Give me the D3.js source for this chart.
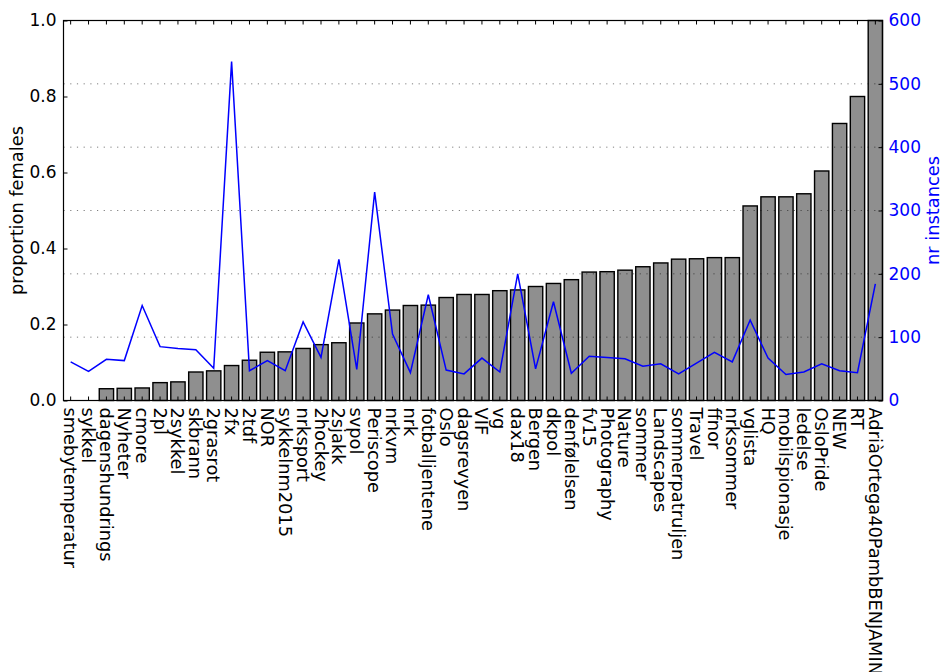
<!DOCTYPE html>
<html>
<head>
<meta charset="utf-8">
<script src="https://cdn.jsdelivr.net/npm/d3@7"></script>
<style>
  html, body { margin: 0; padding: 0; background: #fff; }
  svg { display: block; }
  text { font-family: "DejaVu Sans", sans-serif; }
</style>
</head>
<body>
<svg id="chart" width="943" height="672"></svg>
<script>
// Hashtags, ordered by share of female users
const categories = [
  "smebytemperatur", "sykkel", "dagenshundrings", "Nyheter", "cmore", "2pl",
  "2sykkel", "skbrann", "2grasrot", "2fx", "2tdf", "NOR", "sykkelnm2015",
  "nrksport", "2hockey", "2sjakk", "svpol", "Periscope", "nrkvm", "nrk",
  "fotballjentene", "Oslo", "dagsrevyen", "VIF", "vg", "dax18", "Bergen",
  "dkpol", "denfølelsen", "fv15", "Photography", "Nature", "sommer",
  "Landscapes", "sommerpatruljen", "Travel", "ffnor", "nrksommer", "vglista",
  "HQ", "mobilspionasje", "ledelse", "OsloPride", "NEW", "RT",
  "AdriàOrtega40PambBENJAMIN"
];

// Proportion of female users per hashtag (bars, left axis)
const proportionFemales = [
  0.000, 0.000, 0.031, 0.032, 0.033, 0.047,
  0.049, 0.075, 0.078, 0.092, 0.106, 0.127, 0.128,
  0.137, 0.147, 0.152, 0.204, 0.228, 0.238, 0.250,
  0.251, 0.271, 0.279, 0.279, 0.289, 0.291, 0.300,
  0.308, 0.318, 0.338, 0.339, 0.343, 0.352,
  0.362, 0.372, 0.373, 0.376, 0.376, 0.512,
  0.536, 0.536, 0.544, 0.604, 0.729, 0.800,
  1.000
];

// Number of instances per hashtag (line, right axis)
const nrInstances = [
  61, 46, 65, 63, 150, 85,
  82, 80, 51, 535, 47, 63, 47,
  124, 68, 223, 49, 329, 105, 44,
  167, 48, 42, 67, 45, 200, 50,
  156, 43, 70, 68, 66, 54,
  58, 42, 59, 76, 61, 127,
  67, 41, 45, 58, 47, 44,
  184
];

const leftTicks = [0.0, 0.2, 0.4, 0.6, 0.8, 1.0];
const rightTicks = [0, 100, 200, 300, 400, 500, 600];

const svg = d3.select("#chart");
const plot = { left: 63.5, right: 882.5, top: 20.5, bottom: 400.5 };
const TICK_FONT = 17;
const LABEL_FONT = 17.8;

const x = d3.scaleBand()
  .domain(categories)
  .range([plot.left, plot.right])
  .paddingInner(0.2)
  .paddingOuter(0);

const yLeft = d3.scaleLinear().domain([0, 1]).range([plot.bottom, plot.top]);
const yRight = d3.scaleLinear().domain([0, 600]).range([plot.bottom, plot.top]);

// Bars
svg.append("g")
  .selectAll("rect")
  .data(categories)
  .join("rect")
  .attr("x", d => x(d))
  .attr("width", x.bandwidth())
  .attr("y", (d, i) => yLeft(proportionFemales[i]))
  .attr("height", (d, i) => yLeft(0) - yLeft(proportionFemales[i]))
  .attr("fill", "#8f8f8f")
  .attr("stroke", "#000")
  .attr("stroke-width", (d, i) => proportionFemales[i] > 0 ? 1.4 : 0);

// Dotted grid at the right-axis ticks
svg.append("g")
  .selectAll("line")
  .data(rightTicks.filter(t => t > 0 && t < 600))
  .join("line")
  .attr("x1", plot.left).attr("x2", plot.right)
  .attr("y1", d => yRight(d)).attr("y2", d => yRight(d))
  .attr("stroke", "#000")
  .attr("stroke-opacity", 0.5)
  .attr("stroke-width", 1)
  .attr("stroke-dasharray", "1.2,5.5");

// Instances line
const line = d3.line()
  .x((d, i) => x(categories[i]) + x.bandwidth() / 2)
  .y(d => yRight(d));

svg.append("path")
  .datum(nrInstances)
  .attr("d", line)
  .attr("fill", "none")
  .attr("stroke", "#0000ff")
  .attr("stroke-width", 1.5)
  .attr("stroke-linejoin", "miter");

// Axes: left
const axisLeft = d3.axisLeft(yLeft)
  .tickValues(leftTicks)
  .tickFormat(d3.format(".1f"))
  .tickSizeInner(-4)
  .tickSizeOuter(0)
  .tickPadding(7);
const gl = svg.append("g").attr("transform", `translate(${plot.left},0)`).call(axisLeft);
gl.select(".domain").remove();
gl.selectAll("text").attr("font-size", TICK_FONT).attr("fill", "#000").attr("font-family", "DejaVu Sans");
gl.selectAll("line").attr("stroke", "#000");

// Axes: right
const axisRight = d3.axisRight(yRight)
  .tickValues(rightTicks)
  .tickFormat(d3.format("d"))
  .tickSizeInner(-4)
  .tickSizeOuter(0)
  .tickPadding(6);
const gr = svg.append("g").attr("transform", `translate(${plot.right},0)`).call(axisRight);
gr.select(".domain").remove();
gr.selectAll("text").attr("font-size", TICK_FONT).attr("fill", "#0000ff").attr("font-family", "DejaVu Sans");
gr.selectAll("line").attr("stroke", "#000");

// Axes: bottom with vertical category labels
const axisBottom = d3.axisBottom(x)
  .tickSizeInner(-4)
  .tickSizeOuter(0)
  .tickPadding(0);
const gb = svg.append("g").attr("transform", `translate(0,${plot.bottom})`).call(axisBottom);
gb.select(".domain").remove();
gb.selectAll("line").attr("stroke", "#000");
gb.selectAll("text")
  .attr("font-size", LABEL_FONT)
  .attr("fill", "#000")
  .attr("font-family", "DejaVu Sans")
  .attr("text-anchor", "start")
  .attr("dy", null)
  .attr("y", null)
  .attr("dominant-baseline", "central")
  .attr("transform", "translate(0,7) rotate(90)");

// Top tick marks
const axisTop = d3.axisTop(x).tickSizeInner(-4).tickSizeOuter(0).tickFormat("");
const gt = svg.append("g").attr("transform", `translate(0,${plot.top})`).call(axisTop);
gt.select(".domain").remove();
gt.selectAll("line").attr("stroke", "#000");

// Frame
svg.append("rect")
  .attr("x", plot.left).attr("y", plot.top)
  .attr("width", plot.right - plot.left)
  .attr("height", plot.bottom - plot.top)
  .attr("fill", "none")
  .attr("stroke", "#000")
  .attr("stroke-width", 1.2);

// Axis titles
svg.append("text")
  .attr("transform", `translate(23,${(plot.top + plot.bottom) / 2}) rotate(-90)`)
  .attr("text-anchor", "middle")
  .attr("font-size", LABEL_FONT)
  .attr("fill", "#000")
  .text("proportion females");

svg.append("text")
  .attr("transform", `translate(939,${(plot.top + plot.bottom) / 2}) rotate(-90)`)
  .attr("text-anchor", "middle")
  .attr("font-size", LABEL_FONT)
  .attr("fill", "#0000ff")
  .text("nr instances");
</script>
</body>
</html>
